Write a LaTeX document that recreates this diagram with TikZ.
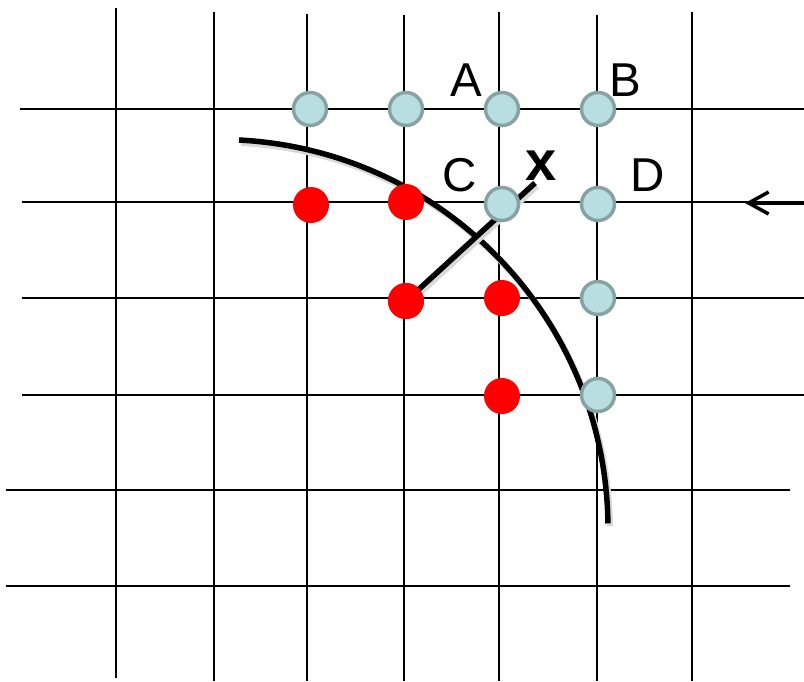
\documentclass[tikz,border=0pt]{standalone}
\usepackage{fontspec}
\setmainfont{Liberation Sans}
\usetikzlibrary{arrows.meta}
\definecolor{bluefill}{HTML}{B9DEE0}
\definecolor{blueedge}{HTML}{86A2A3}
\begin{document}
\begin{tikzpicture}[x=1pt,y=-1pt,
  gridline/.style={line width=1.8pt,black},
  bluept/.style={circle,fill=bluefill,draw=blueedge,line width=3.5pt,minimum size=33pt,inner sep=0pt},
  redpt/.style={circle,fill=red,minimum size=36pt,inner sep=0pt},
  lbl/.style={font=\fontsize{47.5}{50}\selectfont,inner sep=0pt},
  xlbl/.style={font=\fontsize{56}{58}\selectfont\bfseries,inner sep=0pt},
  thickline/.style={line width=5.5pt,black,line cap=butt},
  shadowline/.style={line width=6pt,black!15}]
\useasboundingbox (0,0) rectangle (804,681);
% vertical grid lines
\foreach \x/\t/\b in {116/8/678, 214/12/681, 307/14/681, 404/15/681, 499/12/681, 597/15/681, 692/12/681}
  \draw[gridline] (\x,\t) -- (\x,\b);
% horizontal grid lines
\foreach \y/\l/\r in {109/20/804, 202/22/804, 298/22/804, 395/22/804, 490/6/790, 586/6/790}
  \draw[gridline] (\l,\y) -- (\r,\y);
% arc with shadow
\draw[shadowline] (241,143) arc[start angle=-87.05, end angle=-0.74, radius=389];
\draw[thickline] (239,140) arc[start angle=-87.05, end angle=-0.74, radius=389];
% points
\coordinate (xend) at (535,183);
\coordinate (xshad) at (537,186);
\node[redpt] (r1) at (311,205) {};
\node[redpt] (r2) at (406,202) {};
\node[redpt] (r3) at (406,301) {};
\node[redpt] (r4) at (502,298) {};
\node[redpt] (r5) at (502,396) {};
% line to x (drawn under points)
\draw[shadowline] ([shift={(2,3)}]r3.center) -- (xshad);
\draw[thickline] (r3.center) -- (xend);
\node[redpt] at (r3) {};
\node[bluept] (p1) at (310,109) {};
\node[bluept] (p2) at (406,109) {};
\node[bluept] (pA) at (502,109) {};
\node[bluept] (pB) at (598,109) {};
\node[bluept] (pC) at (502,204) {};
\node[bluept] (pD) at (598,204) {};
\node[bluept] (p7) at (598,298) {};
\node[bluept] (p8) at (598,395) {};
% labels
\node[lbl] (lA) at (466,80) {A};
\node[lbl] (lB) at (625,80) {B};
\node[lbl] (lC) at (460,175) {C};
\node[lbl] (lD) at (648,175) {D};
\node[xlbl] (lx) at (541,166) {x};
% arrow
\coordinate (arrs) at (804,203);
\coordinate (arre) at (745,203);
\draw[line width=4.5pt,-{Straight Barb[length=20pt,width=22pt,line width=3.5pt]}] (arrs) -- (arre);
\end{tikzpicture}
\end{document}
